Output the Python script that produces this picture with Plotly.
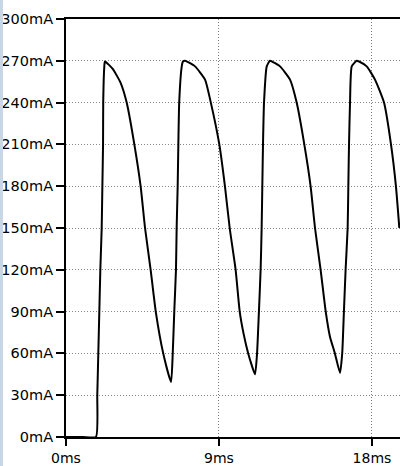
import plotly.graph_objects as go

# time in ms, current in mA
time_ms = [0.0, 1.0, 1.76, 1.84, 1.90, 1.96, 2.02, 2.10, 2.14, 2.18, 2.19, 2.25, 2.29,
           2.76, 3.22, 3.57, 4.02, 4.39, 4.65, 4.98, 5.28, 5.72, 6.18,
           6.28, 6.37, 6.47, 6.51, 6.57, 6.61, 6.66, 6.81, 6.88, 7.00, 7.18,
           7.59, 8.18, 8.52, 9.02, 9.35, 9.63, 9.98, 10.22, 10.45, 10.72, 11.12,
           11.24, 11.35, 11.45, 11.51, 11.55, 11.59, 11.65, 11.81, 12.00, 12.18,
           12.59, 13.18, 13.57, 14.02, 14.39, 14.65, 14.98, 15.28, 15.53, 15.82, 16.12,
           16.25, 16.35, 16.45, 16.57, 16.61, 16.65, 16.71, 16.81, 17.10, 17.24,
           17.69, 18.18, 18.71, 19.12, 19.41, 19.61]
current_ma = [0, 0, 0, 30, 60, 90, 120, 150, 180, 210, 240, 265, 269.5,
              264, 254, 240, 210, 180, 150, 120, 90, 60, 39.5,
              60, 90, 120, 150, 180, 210, 240, 266, 269.5, 270, 269,
              266, 256.5, 240, 210, 180, 150, 120, 90, 74, 60, 45,
              60, 90, 120, 150, 180, 210, 240, 266, 270, 269,
              266, 256.5, 240, 210, 180, 150, 120, 90, 72, 60, 46,
              60, 90, 120, 150, 180, 210, 240, 266, 270, 269.5,
              266, 256.5, 240, 210, 180, 150]

y_tickvals = [0, 30, 60, 90, 120, 150, 180, 210, 240, 270, 300]
y_ticktext = ["0mA", "30mA", "60mA", "90mA", "120mA", "150mA", "180mA",
              "210mA", "240mA", "270mA", "300mA"]
x_tickvals = [0, 9, 18]
x_ticktext = ["0ms", "9ms", "18ms"]

fig = go.Figure()
fig.add_trace(go.Scatter(
    x=time_ms, y=current_ma, mode="lines",
    line=dict(color="black", width=2, shape="spline", smoothing=0.5),
    hoverinfo="skip", showlegend=False))

yfont = dict(family="DejaVu Sans", size=14.5, color="black")
xfont = dict(family="DejaVu Sans", size=14, color="black")
fig.update_layout(
    width=400, height=466,
    margin=dict(l=66, r=0, t=19, b=29),
    paper_bgcolor="white", plot_bgcolor="white",
    font=yfont,
    xaxis=dict(range=[0, 19.65], tickvals=x_tickvals, ticktext=x_ticktext,
               automargin=False,
               showline=True, linecolor="black", linewidth=2, mirror=True,
               ticks="outside", ticklen=7, tickwidth=2, tickcolor="black",
               ticklabelstandoff=0,
               showgrid=True, gridcolor="#777777", gridwidth=1, griddash="1px,2px",
               zeroline=False, fixedrange=True, tickfont=xfont),
    yaxis=dict(range=[0, 300], tickvals=y_tickvals, ticktext=y_ticktext,
               automargin=False,
               showline=True, linecolor="black", linewidth=2,
               ticks="outside", ticklen=8, tickwidth=2, tickcolor="black",
               ticklabelstandoff=0,
               showgrid=True, gridcolor="#888888", gridwidth=1, griddash="1px,2px",
               zeroline=False, fixedrange=True, tickfont=yfont),
    shapes=[dict(type="rect", xref="paper", yref="paper",
                 x0=-66/334, x1=-63/334, y0=-29/418, y1=1 + 19/418,
                 fillcolor="#c9d6e6", line=dict(width=0), layer="above")],
)

fig.write_html("out.html", config={"displayModeBar": False},
               post_script="document.body.style.margin='0px';document.body.style.overflow='hidden';")
